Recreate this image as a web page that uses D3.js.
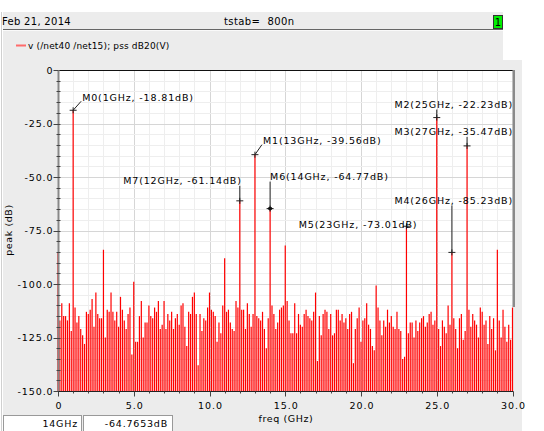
<!DOCTYPE html>
<html>
<head>
<meta charset="utf-8">
<script src="https://cdn.jsdelivr.net/npm/d3@7"></script>
<style>
  body { margin: 0; background: #fff; }
  svg text { font-family: "DejaVu Sans", sans-serif; fill: #000; }
</style>
</head>
<body>
<svg id="chart" width="544" height="431"></svg>
<script>
// Data (pss, dB20), lines every 0.125 GHz
const lineStep = 0.125;

// noise floor, 8 lines per GHz (k = 0..240)
const floorLevels = [
  -118, -117, -109, -115, -115, -117, -109, -122,
  -112, -111, -118, -115, -121, -124, -128, -113,
  -114, -112, -107, -120, -104, -114, -116, -116,
  -112, -125, -112, -113, -104, -113, -117, -113,
  -120, -106, -112, -117, -121, -114, -111, -133,
  -110, -127, -127, -115, -108, -125, -118, -118,
  -110, -115, -116, -111, -113, -108, -121, -119,
  -108, -121, -114, -117, -113, -121, -116, -114,
  -119, -110, -109, -120, -129, -113, -114, -106,
  -104, -114, -138, -114, -122, -116, -117, -111,
  -104, -112, -113, -115, -127, -118, -123, -110,
  -110, -113, -112, -118, -121, -122, -108, -111,
  -110, -112, -112, -121, -109, -114, -120, -114,
  -110, -115, -116, -117, -113, -121, -130, -116,
  -110, -110, -114, -121, -118, -112, -111, -110,
  -110, -108, -117, -123, -123, -109, -123, -114,
  -119, -120, -114, -112, -115, -116, -117, -113,
  -110, -136, -115, -124, -114, -112, -113, -121,
  -114, -124, -123, -112, -112, -117, -114, -118,
  -116, -121, -114, -113, -137, -121, -116, -111,
  -127, -117, -116, -109, -119, -121, -129, -131,
  -110, -111, -117, -124, -117, -120, -112, -118,
  -115, -120, -121, -113, -121, -122, -135, -134,
  -110, -123, -118, -118, -125, -117, -122, -118,
  -116, -115, -120, -118, -114, -113, -119, -117,
  -110, -121, -129, -117, -120, -123, -110, -119,
  -110, -116, -121, -130, -116, -114, -126, -122,
  -110, -112, -120, -114, -117, -119, -125, -111,
  -113, -119, -117, -128, -115, -121, -116, -131,
  -110, -117, -125, -112, -120, -127, -119, -126,
  -111
];

// harmonics / spurs standing above the floor
const spurFreqs = [0, 1, 3, 5, 11, 12, 13, 14, 15, 17, 21, 23, 25, 26, 27, 29, 30];
const spurLevels = [-85, -18.81, -84, -99, -88, -61.14, -39.56, -64.77, -82, -104, -100.7, -73.01, -22.23, -85.23, -35.47, -84, -111];

// markers
const markerNames = ["M0", "M1", "M2", "M3", "M4", "M5", "M6", "M7"];
const markerFreqs = [1, 13, 25, 27, 26, 23, 14, 12];
const markerLevels = [-18.81, -39.56, -22.23, -35.47, -85.23, -73.01, -64.77, -61.14];

// axis ticks
const xTickValues = [0, 5, 10, 15, 20, 25, 30];
const xTickLabels = ["0", "5.0", "10.0", "15.0", "20.0", "25.0", "30.0"];
const yTickValues = [0, -25, -50, -75, -100, -125, -150];
const yTickLabels = ["0", "-25.0", "-50.0", "-75.0", "-100.0", "-125.0", "-150.0"];

// label placement for each marker (layout only)
const markerLayout = {
  M0: { anchor: "start", dx: 9, dy: -13, leader: "diag" },
  M1: { anchor: "start", dx: 8, dy: -14, leader: "diag" },
  M2: { anchor: "end", ax: 513, dy: -13, leader: "vert" },
  M3: { anchor: "end", ax: 513, dy: -14, leader: "vert" },
  M4: { anchor: "end", ax: 513, dy: -52, leader: "vert" },
  M5: { anchor: "end", dx: 11, dy: -2, leader: "none" },
  M6: { anchor: "start", dx: 0, dy: -32, leader: "vert" },
  M7: { anchor: "end", dx: 2, dy: -20, leader: "vert" },
};

const svg = d3.select("#chart");
const plot = { left: 58, right: 512.5, top: 70, bottom: 391 };

const x = d3.scaleLinear().domain([0, 30]).range([plot.left, plot.right]);
const y = d3.scaleLinear().domain([-150, 0]).range([plot.bottom, plot.top]);

// panel backgrounds
svg.append("rect").attr("x", 3).attr("y", 12).attr("width", 500).attr("height", 48).attr("fill", "#ececec");
svg.append("rect").attr("x", 3).attr("y", 60).attr("width", 519).attr("height", 371).attr("fill", "#ececec");
svg.append("line").attr("x1", 1.5).attr("x2", 1.5).attr("y1", 12).attr("y2", 431).attr("stroke", "#d0d0d0");
svg.append("line").attr("x1", 3).attr("x2", 503).attr("y1", 29.5).attr("y2", 29.5).attr("stroke", "#666");
svg.append("line").attr("x1", 3).attr("x2", 503).attr("y1", 30.5).attr("y2", 30.5).attr("stroke", "#fafafa");

// header
svg.append("text").attr("x", 2).attr("y", 25).style("font-size", "10px").style("letter-spacing", "0.3px").text("Feb 21, 2014");
svg.append("text").attr("x", 224).attr("y", 25).style("font-size", "10px").style("letter-spacing", "0.4px")
  .attr("xml:space", "preserve").text("tstab=  800n");
svg.append("rect").attr("x", 493.5).attr("y", 15.5).attr("width", 9).attr("height", 13).attr("fill", "#00ee00").attr("stroke", "#333");
svg.append("text").attr("x", 498).attr("y", 26).attr("text-anchor", "middle").style("font-size", "10px").text("1");

// legend
svg.append("line").attr("x1", 16).attr("x2", 26).attr("y1", 45.5).attr("y2", 45.5).attr("stroke", "#ff6b6b").attr("stroke-width", 2);
svg.append("text").attr("x", 28).attr("y", 49).style("font-size", "9px").style("letter-spacing", "0.15px")
  .text("v (/net40 /net15); pss dB20(V)");

// plot background + grid
svg.append("rect").attr("x", plot.left).attr("y", plot.top).attr("width", plot.right - plot.left).attr("height", plot.bottom - plot.top).attr("fill", "#fff");

const grid = svg.append("g").attr("shape-rendering", "crispEdges");
grid.selectAll(".xminor").data(d3.range(1, 30)).join("line")
  .attr("x1", (d) => Math.round(x(d)) + 0.5).attr("x2", (d) => Math.round(x(d)) + 0.5)
  .attr("y1", plot.top).attr("y2", plot.bottom)
  .attr("stroke", (d) => (d % 5 === 0 ? "#d6d6d6" : "#eeeeee"));
grid.selectAll(".yminor").data(d3.range(-145, 0, 5)).join("line")
  .attr("y1", (d) => Math.round(y(d)) + 0.5).attr("y2", (d) => Math.round(y(d)) + 0.5)
  .attr("x1", plot.left).attr("x2", plot.right)
  .attr("stroke", (d) => (d % 25 === 0 ? "#d6d6d6" : "#eeeeee"));

// spectral lines
const spurMap = new Map(spurFreqs.map((f, i) => [f, spurLevels[i]]));
const lines = floorLevels.map((v, k) => {
  const f = k * lineStep;
  return { f, v: spurMap.has(f) ? spurMap.get(f) : v };
});

svg.append("g").selectAll("line").data(lines).join("line")
  .attr("x1", (d) => x(d.f)).attr("x2", (d) => x(d.f))
  .attr("y1", y(-150)).attr("y2", (d) => y(d.v))
  .attr("stroke", "#ff0000").attr("stroke-width", 1.2);

// plot frame
svg.append("line").attr("x1", plot.left).attr("x2", plot.right + 1).attr("y1", plot.top + 0.5).attr("y2", plot.top + 0.5).attr("stroke", "#111");
svg.append("rect").attr("x", 512.5).attr("y", plot.top).attr("width", 2.5).attr("height", 237).attr("fill", "#8a8a8a");

// axes
const axisColor = "#444";
const yAxis = svg.append("g").attr("transform", `translate(${plot.left + 0.5},0)`);
yAxis.append("line").attr("y1", plot.top).attr("y2", plot.bottom).attr("stroke", "#888").attr("stroke-width", 2);
yAxis.selectAll(".mt").data(d3.range(-145, 0, 5)).join("line")
  .attr("x1", -2).attr("x2", 2).attr("y1", (d) => Math.round(y(d)) + 0.5).attr("y2", (d) => Math.round(y(d)) + 0.5).attr("stroke", axisColor);
yAxis.selectAll(".MT").data(yTickValues).join("line")
  .attr("x1", -5).attr("x2", 0).attr("y1", (d) => Math.round(y(d)) + 0.5).attr("y2", (d) => Math.round(y(d)) + 0.5).attr("stroke", axisColor);
yAxis.selectAll("text").data(yTickValues).join("text")
  .attr("x", -5).attr("y", (d) => y(d) + 3.5).attr("text-anchor", "end")
  .style("font-size", "9.5px").style("letter-spacing", "0.9px")
  .text((d, i) => yTickLabels[i]);

const xAxis = svg.append("g").attr("transform", `translate(0,${plot.bottom + 0.5})`);
xAxis.append("line").attr("x1", plot.left).attr("x2", plot.right + 1).attr("stroke", "#222");
xAxis.selectAll(".mt").data(d3.range(0, 31)).join("line")
  .attr("x1", (d) => Math.round(x(d)) + 0.5).attr("x2", (d) => Math.round(x(d)) + 0.5)
  .attr("y1", 0).attr("y2", (d) => (d % 5 === 0 ? 5 : 2)).attr("stroke", axisColor);
xAxis.selectAll("text").data(xTickValues).join("text")
  .attr("x", (d) => x(d) + 1).attr("y", 17).attr("text-anchor", "middle")
  .style("font-size", "9.5px").style("letter-spacing", "0.9px")
  .text((d, i) => xTickLabels[i]);

svg.append("text").attr("x", 286).attr("y", 422).attr("text-anchor", "middle")
  .style("font-size", "9.5px").style("letter-spacing", "0.6px").text("freq (GHz)");
svg.append("text").attr("transform", "translate(12,230) rotate(-90)").attr("text-anchor", "middle")
  .style("font-size", "9.5px").style("letter-spacing", "0.6px").text("peak (dB)");

// markers
const markers = markerNames.map((name, i) => ({
  name, f: markerFreqs[i], v: markerLevels[i],
  label: `${name}(${markerFreqs[i]}GHz, ${markerLevels[i].toFixed(2)}dB)`,
}));

const mg = svg.append("g");
markers.forEach((m) => {
  const px = x(m.f), py = y(m.v);
  const lay = markerLayout[m.name];
  const lx = lay.ax !== undefined ? lay.ax : px + lay.dx;
  const ly = py + lay.dy;

  if (lay.leader === "diag") {
    mg.append("line").attr("x1", px).attr("y1", py).attr("x2", px + lay.dx - 1).attr("y2", ly + 4).attr("stroke", "#222");
  } else if (lay.leader === "vert") {
    mg.append("line").attr("x1", px).attr("y1", ly + 5).attr("x2", px).attr("y2", py).attr("stroke", "#222");
  }

  // cross at the point
  mg.append("line").attr("x1", px - 3.5).attr("x2", px + 3.5).attr("y1", py).attr("y2", py).attr("stroke", "#222");
  mg.append("line").attr("x1", px).attr("x2", px).attr("y1", py - 3).attr("y2", py + 3).attr("stroke", "#222");
  if (m.name === "M6") {
    mg.append("ellipse").attr("cx", px).attr("cy", py).attr("rx", 2.2).attr("ry", 1.8).attr("fill", "#111");
  }

  mg.append("text").attr("x", lx).attr("y", ly + 3.5).attr("text-anchor", lay.anchor)
    .style("font-size", "9.5px").style("letter-spacing", "0.85px")
    .text(m.label);
});

// status boxes (selected marker readout)
const status = svg.append("g").attr("shape-rendering", "crispEdges");
status.append("rect").attr("x", 3.5).attr("y", 415.5).attr("width", 78).attr("height", 20).attr("fill", "#fff").attr("stroke", "#999");
status.append("rect").attr("x", 83.5).attr("y", 415.5).attr("width", 89).attr("height", 20).attr("fill", "#fff").attr("stroke", "#999");
svg.append("text").attr("x", 78).attr("y", 427).attr("text-anchor", "end")
  .style("font-size", "9.5px").style("letter-spacing", "0.8px").text(`${markerFreqs[6]}GHz`);
svg.append("text").attr("x", 168).attr("y", 427).attr("text-anchor", "end")
  .style("font-size", "9.5px").style("letter-spacing", "0.8px").text("-64.7653dB");
</script>
</body>
</html>
